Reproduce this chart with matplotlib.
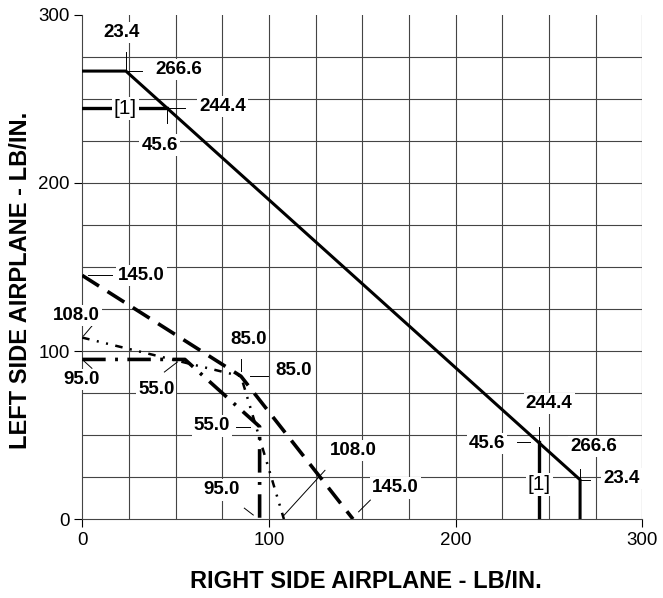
"""
Allowable running load envelope, left side vs right side of the airplane.
Redrawn as a plain matplotlib line chart with dimension callouts.
"""

import matplotlib.pyplot as plt
import numpy as np

plt.rcParams.update({
    "font.family": ["Liberation Sans", "DejaVu Sans"],
    "font.size": 13,
})

# ---- envelope curves (RIGHT side x, LEFT side y), lb/in.
SOLID_X = [0, 23.4, 266.6, 266.6]
SOLID_Y = [266.6, 266.6, 23.4, 0]

NOTE1_H_X = [0, 45.6]          # [1] limit, horizontal leg
NOTE1_H_Y = [244.4, 244.4]
NOTE1_V_X = [244.4, 244.4]     # [1] limit, vertical leg
NOTE1_V_Y = [45.6, 0]

DASH145_X = [0, 85, 145]
DASH145_Y = [145, 85, 0]

DASHDOT95_X = [0, 55, 95, 95]
DASHDOT95_Y = [95, 95, 55, 0]

DDOT108_X = [0, 85, 108]
DDOT108_Y = [108, 85, 0]

# ---- callout texts and where they sit (data coords)
LABELS = ["23.4", "266.6", "[1]", "244.4", "45.6",
          "145.0", "108.0", "95.0",
          "85.0", "85.0", "55.0", "55.0",
          "108.0", "95.0", "145.0",
          "244.4", "45.6", "266.6", "[1]", "23.4"]
LABEL_X = [21.2, 51.7, 23.0, 75.3, 41.5,
           31.6, -2.9, -0.6,
           89.0, 113.0, 39.6, 69.4,
           145.0, 74.5, 167.6,
           250.0, 216.7, 273.7, 244.8, 288.7]
LABEL_Y = [289.6, 267.3, 244.4, 245.4, 222.6,
           145.2, 121.0, 83.3,
           107.0, 88.7, 77.0, 55.4,
           41.0, 17.3, 18.5,
           68.8, 45.0, 43.2, 20.8, 24.0]

# thin leader / extension lines: (x0, y0, x1, y1)
LEADERS = [
    (23.4, 266.6, 23.4, 278.0),
    (23.4, 266.6, 32.0, 266.6),
    (45.6, 244.4, 55.0, 244.4),
    (45.6, 244.4, 45.6, 235.5),
    (3.0, 145.0, 16.0, 145.0),
    (5.2, 114.9, 0.7, 109.0),
    (0.4, 94.6, 5.2, 89.7),
    (44.0, 87.5, 51.0, 93.5),
    (85.0, 88.0, 85.0, 95.0),
    (90.0, 85.0, 99.5, 85.0),
    (82.5, 55.0, 90.0, 55.0),
    (107.7, 1.8, 130.0, 29.0),
    (86.8, 6.5, 91.6, 2.4),
    (148.0, 4.3, 154.3, 11.3),
    (244.4, 45.6, 244.4, 54.8),
    (233.0, 45.6, 240.0, 45.6),
    (266.6, 23.4, 266.6, 30.0),
    (266.6, 23.4, 272.0, 23.4),
]


def main():
    fig = plt.figure(figsize=(6.63, 5.98), dpi=100)
    ax = fig.add_axes([0.124, 0.132, 0.845, 0.843])

    # grid every 25, no top line
    for g in np.arange(25, 301, 25):
        ax.plot([g, g], [0, 300], color="#444444", lw=0.8, zorder=1)
    for g in np.arange(25, 300, 25):
        ax.plot([0, 300], [g, g], color="#444444", lw=0.8, zorder=1)

    ax.plot(SOLID_X, SOLID_Y, color="black", lw=2.2, zorder=3,
            solid_joinstyle="miter")
    ax.plot(NOTE1_H_X, NOTE1_H_Y, color="black", lw=2.4, zorder=3)
    ax.plot(NOTE1_V_X, NOTE1_V_Y, color="black", lw=2.4, zorder=3)
    ax.plot(DASH145_X, DASH145_Y, color="black", lw=2.6, zorder=3,
            linestyle=(0, (5.5, 2.8)))
    ax.plot(DASHDOT95_X, DASHDOT95_Y, color="black", lw=2.6, zorder=3,
            linestyle=(0, (6.5, 2.6, 0.8, 2.6)))
    ax.plot(DDOT108_X, DDOT108_Y, color="black", lw=1.8, zorder=3,
            linestyle=(0, (3, 3, 0.8, 3, 0.8, 3)))

    for x0, y0, x1, y1 in LEADERS:
        ax.plot([x0, x1], [y0, y1], color="black", lw=0.7, zorder=4,
                clip_on=False)

    for txt, x, y in zip(LABELS, LABEL_X, LABEL_Y):
        weight = "normal" if txt == "[1]" else "bold"
        size = 15 if txt == "[1]" else 13.5
        ax.text(x, y, txt, ha="center", va="center", fontsize=size,
                fontweight=weight, zorder=5, clip_on=False,
                bbox=dict(facecolor="white", edgecolor="none", pad=1.5))

    ax.set_xlim(0, 300)
    ax.set_ylim(0, 300)
    ax.set_xticks([0, 100, 200, 300])
    ax.set_yticks([0, 100, 200, 300])
    ax.tick_params(direction="out", length=6, width=0.8, labelsize=13.5,
                   pad=3)
    ax.spines["top"].set_visible(False)
    ax.spines["right"].set_visible(False)
    ax.spines["left"].set_color("#444444")
    ax.spines["bottom"].set_color("#444444")

    fig.text(366 / 663, 1 - 582 / 598, "RIGHT SIDE AIRPLANE - LB/IN.",
             fontsize=17, fontweight="bold", ha="center", va="center")
    fig.text(21 / 663, 1 - 280 / 598, "LEFT SIDE AIRPLANE - LB/IN.",
             fontsize=17, fontweight="bold", ha="center", va="center",
             rotation=90)

    fig.savefig("out.png", dpi=100)


if __name__ == "__main__":
    main()
